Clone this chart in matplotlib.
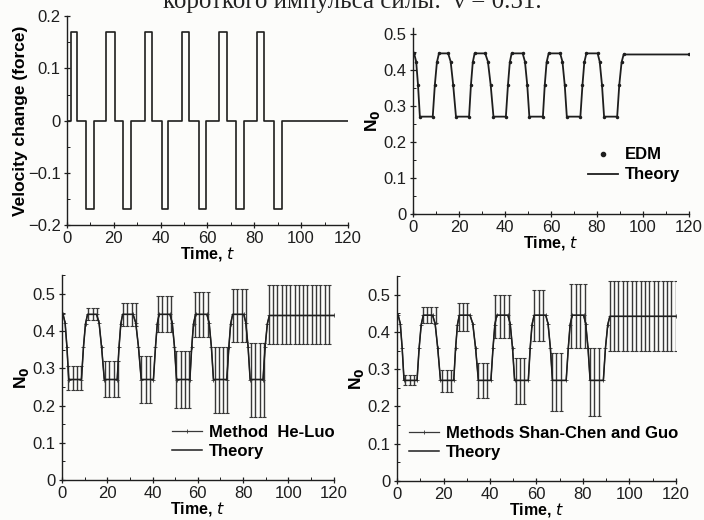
import numpy as np
import matplotlib
matplotlib.use('Agg')
import matplotlib.pyplot as plt
from matplotlib.ticker import MultipleLocator, FuncFormatter

plt.rcParams['font.family'] = ['Liberation Sans', 'DejaVu Sans']

# force pulses (velocity change)
pos_on = [1.7, 16.8, 33.1, 49.0, 65.0, 81.0]
pos_off = [4.3, 20.3, 36.2, 52.3, 68.2, 84.2]
neg_on = [8.2, 24.1, 40.5, 56.5, 72.4, 88.5]
neg_off = [11.6, 27.4, 43.3, 59.4, 75.6, 91.9]
amp = 0.17

# theory curve N0(t)
theory_t = [0, 0.5, 1.4, 2.2, 3.0, 8.6, 9.5, 10.4, 11.3, 15.3, 16.4, 17.5, 18.7,
            24.4, 25.2, 26.0, 26.8, 31.4, 32.6, 33.8, 35.0, 40.4, 41.3, 42.1, 42.9,
            47.7, 48.7, 49.7, 50.6, 56.5, 57.3, 58.1, 59.0, 64.0, 65.0, 66.0, 66.9,
            72.8, 73.7, 74.5, 75.4, 80.3, 81.2, 82.2, 83.1, 88.8, 89.7, 90.7, 91.6, 120]
theory_n = [0.445, 0.445, 0.422, 0.357, 0.27, 0.27, 0.357, 0.42, 0.445, 0.445, 0.422, 0.357, 0.27,
            0.27, 0.357, 0.42, 0.445, 0.445, 0.422, 0.357, 0.27, 0.27, 0.357, 0.42, 0.445,
            0.445, 0.422, 0.357, 0.27, 0.27, 0.357, 0.42, 0.445, 0.445, 0.422, 0.357, 0.27,
            0.27, 0.357, 0.42, 0.445, 0.445, 0.422, 0.357, 0.27, 0.27, 0.357, 0.42, 0.442, 0.442]

# oscillation envelopes on plateaus: start, end, low, high
heluo_start = [2.8, 11.6, 19.0, 27.0, 35.0, 42.4, 50.5, 58.6, 67.4, 75.5, 83.5, 91.3]
heluo_end = [8.7, 17.0, 24.8, 33.0, 40.2, 48.5, 56.4, 65.0, 73.3, 81.5, 89.4, 119.5]
heluo_lo = [0.242, 0.431, 0.224, 0.413, 0.206, 0.397, 0.193, 0.383, 0.18, 0.37, 0.17, 0.365]
heluo_hi = [0.305, 0.462, 0.32, 0.476, 0.334, 0.494, 0.347, 0.505, 0.357, 0.513, 0.368, 0.525]

scg_start = [3.6, 11.0, 19.4, 26.5, 35.0, 42.3, 51.0, 59.0, 66.7, 75.0, 83.0, 91.5]
scg_end = [8.6, 17.0, 24.4, 32.0, 40.0, 48.0, 56.6, 64.5, 72.0, 82.0, 88.5, 120.0]
scg_lo = [0.258, 0.424, 0.24, 0.403, 0.222, 0.385, 0.207, 0.375, 0.189, 0.357, 0.175, 0.35]
scg_hi = [0.285, 0.466, 0.298, 0.479, 0.316, 0.498, 0.33, 0.512, 0.343, 0.53, 0.357, 0.538]

ink = '#1e1e1e'
gray = '#383838'


def force_curve():
    t = [0]
    v = [0]
    for a, b, s in sorted([(a, b, amp) for a, b in zip(pos_on, pos_off)] +
                          [(a, b, -amp) for a, b in zip(neg_on, neg_off)]):
        t += [a, a, b, b]
        v += [0, s, s, 0]
    t.append(120)
    v.append(0)
    return t, v


def draw_method(ax, starts, ends, lows, highs, label, spacing=1.9):
    # the method follows the theory on transitions and oscillates on plateaus
    ax.plot(theory_t, theory_n, color=gray, lw=0.9, marker='+', ms=3, mew=0.6, label=label)
    for s, e, lo, hi in zip(starts, ends, lows, highs):
        xs = np.arange(s, e + 0.01, spacing)
        ax.vlines(xs, lo, hi, color=gray, lw=1.0)
        ax.plot(xs, [hi] * len(xs), ls='none', marker='_', ms=2.5, mew=0.8, color=gray)
        ax.plot(xs, [lo] * len(xs), ls='none', marker='_', ms=2.5, mew=0.8, color=gray)


def style(ax, ymin, ymax, ymaj, ymin_step):
    ax.set_xlim(0, 120)
    ax.set_ylim(ymin, ymax)
    ax.spines['top'].set_visible(False)
    ax.spines['right'].set_visible(False)
    for sp in ['left', 'bottom']:
        ax.spines[sp].set_color(ink)
        ax.spines[sp].set_linewidth(1.0)
    ax.xaxis.set_major_locator(MultipleLocator(20))
    ax.xaxis.set_minor_locator(MultipleLocator(10))
    ax.yaxis.set_major_locator(MultipleLocator(ymaj))
    ax.yaxis.set_minor_locator(MultipleLocator(ymin_step))
    ax.yaxis.set_major_formatter(FuncFormatter(lambda x, p: '0' if abs(x) < 1e-9 else ('%g' % x).replace('-', '\u2212')))
    ax.tick_params(which='major', direction='inout', length=5, width=0.9, colors=ink, labelsize=12, pad=2)
    ax.tick_params(which='minor', direction='in', length=2.5, width=0.7, colors=ink)
    ax.set_xlabel('Time, $\\mathbf{\\mathit{t}}$', fontsize=11.5, fontweight='bold', labelpad=-1)


fig = plt.figure(figsize=(7.04, 5.2), dpi=100)
fig.patch.set_facecolor('#fcfcfa')

ax1 = fig.add_axes([0.0952, 0.567, 0.399, 0.402])
ax2 = fig.add_axes([0.5866, 0.588, 0.392, 0.358])
ax3 = fig.add_axes([0.088, 0.0769, 0.386, 0.3937])
ax4 = fig.add_axes([0.564, 0.075, 0.396, 0.394])

for ax in [ax1, ax2, ax3, ax4]:
    ax.set_facecolor('none')

# panel 1: force
ft, fv = force_curve()
ax1.plot(ft, fv, color=ink, lw=1.2)
style(ax1, -0.2, 0.2, 0.1, 0.05)
ax1.set_ylabel('Velocity change (force)', fontsize=12.5, fontweight='bold', labelpad=0)

leg_prop = {'weight': 'bold', 'size': 12}

# panel 2: EDM vs theory
ax2.plot(theory_t, theory_n, color=ink, lw=1.3, label='Theory')
ax2.plot(theory_t, theory_n, ls='none', marker='.', ms=3, color=ink, label='EDM')
style(ax2, 0, 0.515, 0.1, 0.05)
ax2.set_ylabel('N$_\\mathbf{0}$', fontsize=12.5, fontweight='bold', labelpad=1)
h, l = ax2.get_legend_handles_labels()
ax2.legend([h[1], h[0]], [l[1], l[0]], loc='lower left', bbox_to_anchor=(0.58, 0.09),
           frameon=False, prop=leg_prop,
           handlelength=1.8, handletextpad=0.4, labelspacing=0.3, markerscale=2)

# panel 3: He-Luo
draw_method(ax3, heluo_start, heluo_end, heluo_lo, heluo_hi, 'Method  He-Luo')
ax3.plot(theory_t, theory_n, color=ink, lw=1.1, label='Theory')
style(ax3, 0, 0.55, 0.1, 0.05)
ax3.set_ylabel('N$_\\mathbf{0}$', fontsize=12.5, fontweight='bold', labelpad=1)
ax3.legend(loc='lower left', bbox_to_anchor=(0.35, 0.03), frameon=False,
           prop=leg_prop, handlelength=1.8,
           handletextpad=0.4, labelspacing=0.25)

# panel 4: Shan-Chen and Guo
draw_method(ax4, scg_start, scg_end, scg_lo, scg_hi, 'Methods Shan-Chen and Guo')
ax4.plot(theory_t, theory_n, color=ink, lw=1.1, label='Theory')
style(ax4, 0, 0.55, 0.1, 0.05)
ax4.set_ylabel('N$_\\mathbf{0}$', fontsize=12.5, fontweight='bold', labelpad=1)
ax4.legend(loc='lower left', bbox_to_anchor=(-0.01, 0.03), frameon=False,
           prop=leg_prop, handlelength=1.8,
           handletextpad=0.4, labelspacing=0.25)

# caption line from the page above, cut at the top edge as in the scan
fig.text(0.5, 0.984, 'короткого импульса силы:  \u03bd = 0.51.', ha='center', va='baseline',
         fontsize=18, family=['Liberation Serif', 'DejaVu Serif'], color='#222222')

fig.savefig('out.png', dpi=100, facecolor=fig.get_facecolor())
